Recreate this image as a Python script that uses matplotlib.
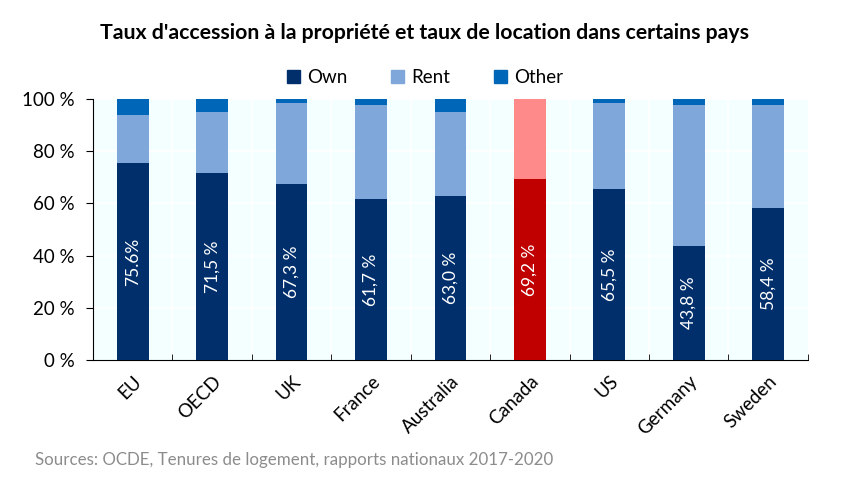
import numpy as np
import matplotlib.pyplot as plt

plt.rcParams['font.family'] = ['Lato', 'DejaVu Sans']

# Data
countries = ['EU', 'OECD', 'UK', 'France', 'Australia', 'Canada', 'US', 'Germany', 'Sweden']
own = [75.6, 71.5, 67.3, 61.7, 63.0, 69.2, 65.5, 43.8, 58.4]
rent = [18.2, 23.5, 31.2, 36.0, 32.0, 30.8, 33.0, 54.1, 39.4]
other = [6.2, 5.0, 1.5, 2.3, 5.0, 0.0, 1.5, 2.1, 2.2]
own_labels = ['75.6%', '71,5 %', '67,3 %', '61,7 %', '63,0 %', '69,2 %', '65,5 %', '43,8 %', '58,4 %']
yticks = [0, 20, 40, 60, 80, 100]

c_own, c_rent, c_other = '#002F6C', '#7FA7D9', '#0067B8'
c_own_hl, c_rent_hl = '#C00000', '#FF8A8A'
highlight = 'Canada'

fig = plt.figure(figsize=(8.5, 4.83), dpi=100)
ax = fig.add_axes([0.1094, 0.2547, 0.841, 0.540])
ax.set_facecolor('#F4FFFF')

x = np.arange(len(countries))
w = 0.4
own_cols = [c_own_hl if c == highlight else c_own for c in countries]
rent_cols = [c_rent_hl if c == highlight else c_rent for c in countries]
bottom_rent = np.array(own)
bottom_other = bottom_rent + np.array(rent)

ax.bar(x, own, w, color=own_cols, label='Own', zorder=3)
ax.bar(x, rent, w, bottom=bottom_rent, color=rent_cols, label='Rent', zorder=3)
ax.bar(x, other, w, bottom=bottom_other, color=c_other, label='Other', zorder=3)

for xi, v, lab in zip(x, own, own_labels):
    ax.text(xi, v / 2, lab, rotation=90, ha='center', va='center',
            color='white', fontsize=12.5, zorder=4)

ax.set_xlim(-0.5, len(countries) - 0.5)
ax.set_ylim(0, 100)
ax.set_yticks(yticks)
ax.set_yticklabels([f'{t} %' for t in yticks], fontsize=13.5)

# gridlines: horizontal at y ticks, vertical between categories
for t in yticks[1:]:
    ax.axhline(t, color='white', lw=1.2, zorder=1)
for b in np.arange(0.5, len(countries) - 0.5, 1):
    ax.axvline(b, color='white', lw=1.2, zorder=1)

ax.set_xticks(x)
ax.set_xticklabels(countries, rotation=45, ha='right', rotation_mode='anchor', fontsize=13.5)
ax.tick_params(axis='x', length=0, pad=9)
ax.set_xticks(np.arange(-0.5, len(countries)), minor=True)
ax.tick_params(axis='x', which='minor', direction='in', length=4)
ax.tick_params(axis='y', direction='out', length=5, pad=8)

for s in ['top', 'right']:
    ax.spines[s].set_visible(False)
ax.spines['left'].set_color('black')
ax.spines['bottom'].set_color('black')

handles, labels = ax.get_legend_handles_labels()
leg = fig.legend([plt.Rectangle((0, 0), 1, 1, color=c) for c in (c_own, c_rent, c_other)],
                 labels, loc='center', bbox_to_anchor=(0.5, 0.84), ncol=3, frameon=False,
                 fontsize=13.5, handlelength=0.7, handleheight=0.7, columnspacing=2.3,
                 handletextpad=0.4)

fig.text(0.5, 0.932, "Taux d'accession à la propriété et taux de location dans certains pays",
         ha='center', va='center', fontsize=15.3, fontweight='bold')
fig.text(0.041, 0.048, 'Sources: OCDE, Tenures de logement, rapports nationaux 2017-2020',
         ha='left', va='center', fontsize=12.2, color='#8C8C8C')

fig.savefig('out.png', dpi=100, facecolor='white')
